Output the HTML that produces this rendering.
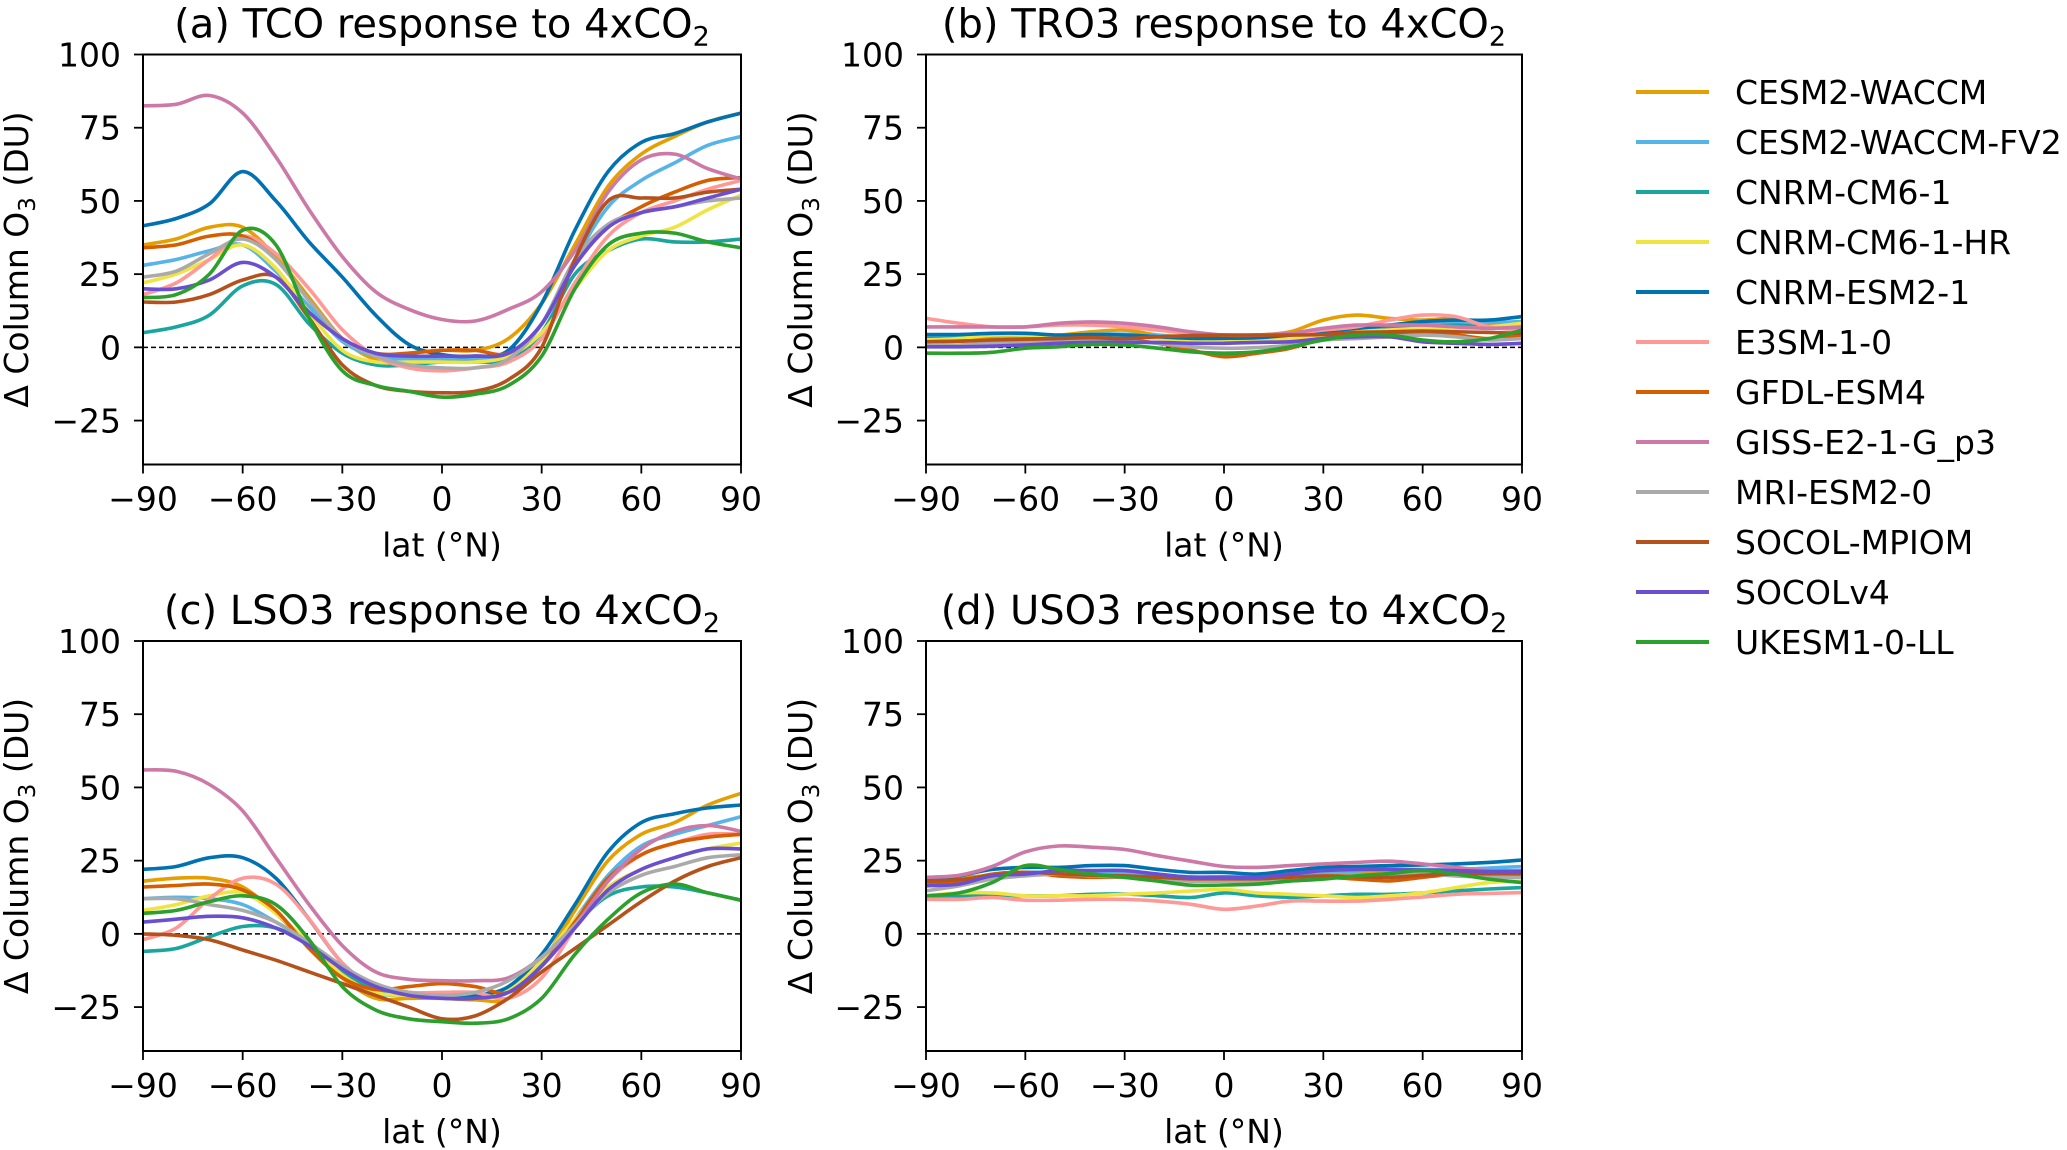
<!DOCTYPE html>
<html><head><meta charset="utf-8">
<style>
html,body{margin:0;padding:0;background:#fff;}
svg{display:block;font-family:"DejaVu Sans","Liberation Sans",sans-serif;}
</style></head>
<body>
<svg id="fig" width="2067" height="1150" viewBox="0 0 2067 1150" xmlns="http://www.w3.org/2000/svg"></svg>
<script>
const lats = [-90,-80,-70,-60,-50,-40,-30,-20,-10,0,10,20,30,40,50,60,70,80,90];
const xTicks = [-90,-60,-30,0,30,60,90];
const yTicks = [-25,0,25,50,75,100];
const models = ["CESM2-WACCM","CESM2-WACCM-FV2","CNRM-CM6-1","CNRM-CM6-1-HR","CNRM-ESM2-1","E3SM-1-0","GFDL-ESM4","GISS-E2-1-G_p3","MRI-ESM2-0","SOCOL-MPIOM","SOCOLv4","UKESM1-0-LL"];
const colors = ["#e69f00","#56b4e9","#1aa69e","#f0e442","#0072b2","#ff9896","#d55e00","#cc79a7","#aaaaaa","#b5521c","#6a4fd0","#2ca02c"];

const tcoData = [
 [35,37,41,41,31,17,3,-4,-2,-1,-1,3,15,35,55,66,72,77,80],
 [28,30,33,35,26,14,2,-3,-4,-4,-4,-2,8,30,48,57,63,69,72],
 [5,7,11,21,21.5,8,-2,-6,-6,-5,-5,-4,5,25,33,37,36,36,37],
 [22,25,30,35,27,12,-1,-5,-5,-5,-5,-3,5,20,33,38,41,47,52],
 [41.5,44,49,60,50,36,24,11,1,-2.5,-3,-1,15,40,60,70,73,77,80],
 [18,22,30,38,32,20,6,-3,-7,-8,-7,-5,3,22,38,46,50,54,57],
 [34,35,38,38,30,16,3,-2,-2,-1,-1,-2,8,28,41,48,53,57,58],
 [82.5,83,86,80,65,47,31,19,13,9.5,9,13,19,33,53,64,66,61,57.5],
 [24,26,32,37,30,16,3,-3,-6,-7,-7,-4,8,30,42,46,48,50,51],
 [15.5,15.5,18,23,24,10,-6,-13,-15,-15.5,-15,-11,0,30,50,51,51,53,54],
 [20,20,23,29,24,12,3,-2,-3,-3,-3,-2,8,28,41,46,48,51,54],
 [17,18,25,40,35,10,-8,-13,-15,-17,-16,-13,-3,20,35,39,39,36,34]
];
const tro3Data = [
 [2.8,3.3,3.6,3.8,4.2,5.3,5.9,4.2,3.6,3.6,4.2,5.3,9.3,11,9.9,9.3,9.9,8.2,7.6],
 [3.8,3.8,4.5,4.5,4,4.5,4.5,4,3.5,3.5,3.8,4.5,5.8,6.8,7.5,8.2,8.6,8.5,8.8],
 [3,3.2,4.2,4.2,3.6,4.2,4.2,3.6,3,3,3.2,4.2,5.1,5.9,6.5,7,7.6,7,7.6],
 [2.5,3,4.2,4.2,3.6,3.6,4.2,3,2.5,2.2,2.5,3,4.2,5.3,5.9,6.5,6.5,7,8.2],
 [4.4,4.4,4.8,4.8,4.2,4.4,4.2,3.6,3.1,3.1,3.3,4.2,5.3,6.5,7.6,8.8,9.3,9.3,10.5],
 [9.9,8.2,7,7,7.6,7.6,7,5.9,4.8,4.2,4.2,4.8,5.9,7,9.3,11,10.5,7,5.9],
 [1.9,2.1,2.5,2.8,3,2.8,2.5,1.4,-0.9,-3.2,-2,-0.3,3,4.8,5.1,4.8,4.2,3,4.2],
 [7,7,7,7,8.2,8.7,8.2,7,5.3,4.2,4.2,4.8,6.5,7.6,7.6,7.6,7,6.5,7],
 [0.6,0.8,1.4,1.7,2.1,2.5,2.1,1.4,0.2,-0.3,-0.1,0.8,2.5,3,3.6,4.2,3.6,2.5,3],
 [1.9,2.1,2.5,2.8,3,3.3,3,3.6,4,4.2,4.2,4.2,4.4,5.1,5.3,5.6,5.3,5.1,4.8],
 [0.2,0.2,0.4,0.8,1.4,1.7,1.7,1.7,1.4,1.4,1.7,1.9,3,3.6,3.6,1.9,1.4,1,1.4],
 [-2,-2,-1.7,-0.3,0.2,1,0.8,-0.3,-1.5,-2,-1.5,0.2,2.5,4.2,4.2,2.5,1.9,3,5.9]
];
const lso3Data = [
 [18,19,19,16,7,-4,-15,-22,-22,-22,-22.5,-22,-10,8,25,34,38,44,48],
 [12,12.5,12,10,4,-3,-12,-20,-21,-21,-21,-19,-9,5,20,30,34,37,40],
 [-6,-5,-1,2.5,2,-4,-13,-19,-21,-21,-21,-19,-10,3,13,16,16,14,11.5],
 [8,10,13,14,7,-3,-14,-20,-21,-21,-21,-19,-9,5,16,22,26,29,31],
 [22,23,26,26,19,5,-10,-18,-20,-21,-21,-18,-7,10,28,38,41,43,44],
 [-2,2,12,19,17,5,-10,-18,-20,-20,-20,-22,-15,2,18,27,31,34,34],
 [16,16.5,17,15,8,-5,-15,-19,-18,-17,-18,-20,-11,4,19,27,31,33,34],
 [56,55.5,51,42,26,10,-4,-13,-15.5,-16,-16,-15,-8,3,18,29,35,37,35],
 [12,12,10,8,4,-3,-11,-17,-20,-21,-20,-16,-8,3,14,20,23,26,27],
 [0,-0.5,-2,-5.5,-9,-13,-17,-21,-25,-29,-28,-22,-13,-5,3,11,18,23,26],
 [4,5,6,5.5,2,-4,-12,-18,-21,-22,-22,-20,-11,2,15,22,26,29,29],
 [7,8,11,13,10,-2,-18,-26,-29,-30,-30.5,-29,-22,-7,5,14,17,14,11.5]
];
const uso3Data = [
 [18,19,20,20.5,20.5,20,19.8,19.5,19,19,19,19.5,20,20.5,21,21.5,21.5,21.5,21.5],
 [17,18,20,21,21,21,20.5,20,19.5,19.5,19.5,20,21,21.5,22,22,22,22.5,23],
 [13,13,13.2,13,13,13.5,13.6,13,12.4,14,13,12.5,13,13.5,13.5,14,14.7,15.3,15.8],
 [13,14,14,13,13,13,13.5,14,14.6,15.2,14,13.5,13,12.4,13,14,15.8,17.5,18],
 [18,19.8,22,22.7,22.7,23.3,23.3,22,21,21,20.4,21.6,22.7,23,23.3,23.5,23.9,24.4,25.2],
 [11.8,11.8,12.4,11.5,11.5,11.8,11.8,11.2,10.1,8.4,9.5,11.2,11.2,11.2,11.8,12.6,13.5,13.8,14.1],
 [17.5,18,20.4,21,19.8,19.3,19.3,18.7,18.1,18.1,18.1,18.7,19.3,18.7,18.1,19.3,20.4,21,21],
 [19.3,20,23,28,30,29.6,28.8,26.7,24.8,23,22.7,23.3,23.9,24.4,24.8,23.9,22.7,21.6,21.6],
 [14.7,16.4,18.7,19.8,20.4,19.8,19.3,18.7,18,18,18.2,18.9,19.5,19.8,20.2,20.4,19.8,19.3,19.3],
 [18,18.5,20,21,20.5,20,19.8,19.3,18.8,18.8,18.8,19.3,19.8,19.5,19.3,20,20.5,20.5,20.5],
 [16.4,17,19.8,20.4,21.6,21.6,21.6,20.4,19.3,19.3,19.3,20.4,21.6,22,22,21.8,21.6,21.3,21.3],
 [13,14,17.5,23.3,22,20.4,19.3,18,16.6,16.7,17,18,18.7,19.8,20.6,21.6,20.4,18.7,17.5]
];

const panels = [
 {id:"a", title:"(a) TCO response to 4xCO", x0:143, x1:741, y0:54.5, y1:464.5, data:tcoData, ylx:16},
 {id:"b", title:"(b) TRO3 response to 4xCO", x0:926, x1:1522, y0:54.5, y1:464.5, data:tro3Data, ylx:800},
 {id:"c", title:"(c) LSO3 response to 4xCO", x0:143, x1:741, y0:641, y1:1051, data:lso3Data, ylx:16},
 {id:"d", title:"(d) USO3 response to 4xCO", x0:926, x1:1522, y0:641, y1:1051, data:uso3Data, ylx:800}
];
const NS = "http://www.w3.org/2000/svg";
const svg = document.getElementById("fig");
function mk(tag, attrs, parent){
  const e = document.createElementNS(NS, tag);
  for (const k in attrs) e.setAttribute(k, attrs[k]);
  (parent||svg).appendChild(e);
  return e;
}
function smoothPath(pts){
  let d = "M"+pts[0][0].toFixed(1)+","+pts[0][1].toFixed(1);
  for (let i=0;i<pts.length-1;i++){
    const p0=pts[Math.max(0,i-1)], p1=pts[i], p2=pts[i+1], p3=pts[Math.min(pts.length-1,i+2)];
    const c1=[p1[0]+(p2[0]-p0[0])/6, p1[1]+(p2[1]-p0[1])/6];
    const c2=[p2[0]-(p3[0]-p1[0])/6, p2[1]-(p3[1]-p1[1])/6];
    d += " C"+c1[0].toFixed(1)+","+c1[1].toFixed(1)+" "+c2[0].toFixed(1)+","+c2[1].toFixed(1)+" "+p2[0].toFixed(1)+","+p2[1].toFixed(1);
  }
  return d;
}
panels.forEach(p=>{
  const xs = v => p.x0 + (v+90)/180*(p.x1-p.x0);
  const ys = v => p.y1 - (v+40)/140*(p.y1-p.y0);
  const g = mk("g", {});
  
  
  const cx = (p.x0+p.x1)/2;
  const t = mk("text", {x:cx, y:p.y0-17, "text-anchor":"middle", "font-size":"40"}, g);
  
  
  t.textContent = p.title;
  const sub = mk("tspan", {"font-size":"27", dy:"8"}, t);
  sub.textContent = "2";
  const zl = mk("line", {x1:p.x0, x2:p.x1, y1:ys(0), y2:ys(0), stroke:"#000", "stroke-width":"1.5", "stroke-dasharray":"5,3"}, g);
  
  
  p.data.forEach((vals,i)=>{
    const pts = vals.map((v,j)=>[xs(lats[j]), ys(v)]);
    const path = mk("path", {d:smoothPath(pts), fill:"none", stroke:colors[i], "stroke-width":"3.6", "stroke-linejoin":"round"}, g);
    
    
  });
  const fr = mk("rect", {x:p.x0, y:p.y0, width:p.x1-p.x0, height:p.y1-p.y0, fill:"none", stroke:"#000", "stroke-width":"2"}, g);
  
  
  xTicks.forEach(v=>{
    mk("line", {x1:xs(v), x2:xs(v), y1:p.y1, y2:p.y1+9, stroke:"#000", "stroke-width":"1.8"}, g);
    const tl = mk("text", {x:xs(v), y:p.y1+46, "text-anchor":"middle", "font-size":"33"}, g);
    
    
    tl.textContent = (v<0?"\u2212"+(-v):String(v));
  });
  yTicks.forEach(v=>{
    mk("line", {x1:p.x0-9, x2:p.x0, y1:ys(v), y2:ys(v), stroke:"#000", "stroke-width":"1.8"}, g);
    const tl = mk("text", {x:p.x0-22, y:ys(v)+12, "text-anchor":"end", "font-size":"33"}, g);
    
    
    tl.textContent = (v<0?"\u2212"+(-v):String(v));
  });
  const xl = mk("text", {x:cx, y:p.y1+92, "text-anchor":"middle", "font-size":"33"}, g);
  
  
  xl.textContent = "lat (\u00b0N)";
  const my = (p.y0+p.y1)/2;
  const yl = mk("text", {x:p.ylx, y:my, "text-anchor":"middle", "font-size":"33", transform:"rotate(-90 "+(p.ylx)+" "+my+")", dy:"12"}, g);
  
  
  yl.textContent = "\u0394 Column O";
  const s3 = mk("tspan", {"font-size":"23", dy:"7"}, yl);
  s3.textContent = "3";
  const s4 = mk("tspan", {dy:"-7"}, yl);
  s4.textContent = " (DU)";
});
const lg = mk("g", {});


models.forEach((m,i)=>{
  const y = 92 + i*50;
  const ln = mk("line", {x1:1636, x2:1709, y1:y, y2:y, stroke:colors[i], "stroke-width":"4"}, lg);
  
  
  const tx = mk("text", {x:1735, y:y+12, "font-size":"33"}, lg);
  
  
  tx.textContent = m;
});
</script>
</body></html>
